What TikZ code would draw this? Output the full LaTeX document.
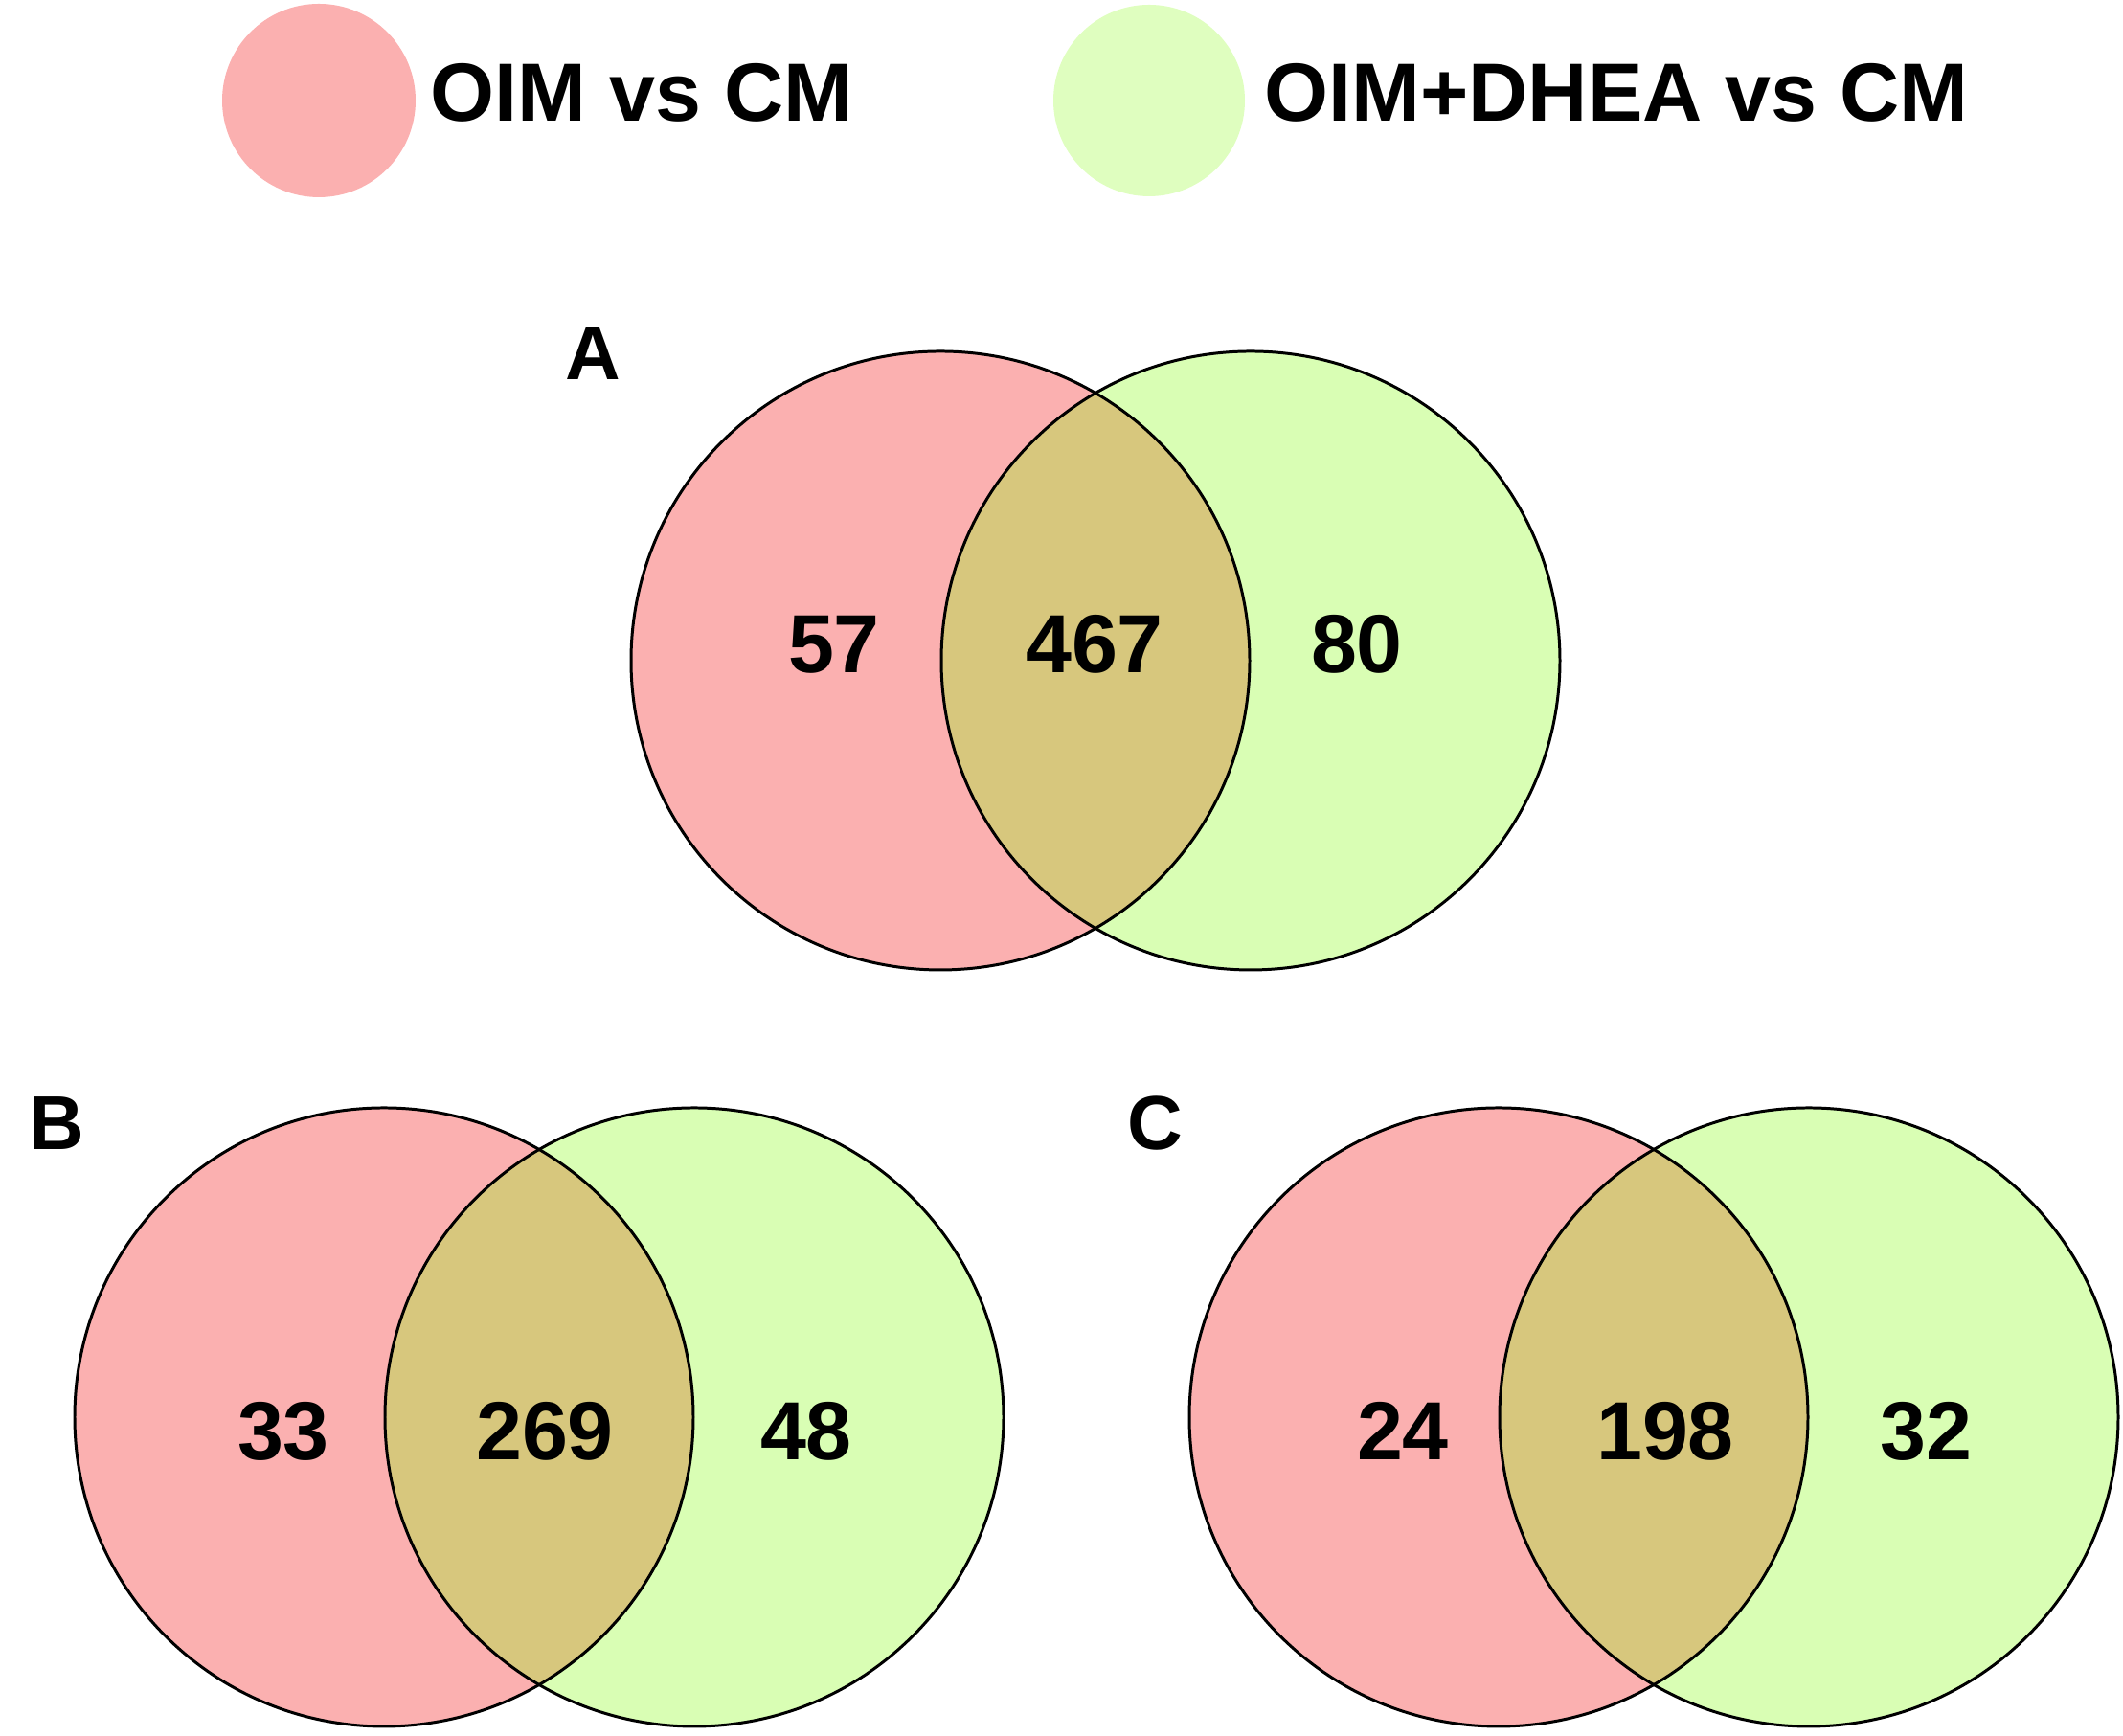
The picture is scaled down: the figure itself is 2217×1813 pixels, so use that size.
\documentclass[tikz,border=0pt]{standalone}
\usepackage{fontspec}
\setmainfont{Liberation Sans}
\definecolor{oimpink}{HTML}{FBB0B0}
\definecolor{dheagreen}{HTML}{D9FEB4}
\definecolor{bothtan}{HTML}{D7C77D}
\begin{document}
\begin{tikzpicture}[x=0.01cm, y=0.01cm,
    every node/.style={inner sep=0pt, font=\bfseries\fontsize{24.5}{29}\selectfont},
    panel/.style={font=\bfseries\fontsize{22.7}{27}\selectfont},
    ring/.style={draw=black, line width=0.85pt}]
  \useasboundingbox (0,0) rectangle (2217,1813);
  % legend
  \fill[oimpink] (333,1708) circle (101);
  \fill[dheagreen!85!white] (1200,1708) circle (100);
  \node (leg1) at (449,1686) [anchor=base west] {OIM vs CM};
  \node (leg2) at (1320,1686) [anchor=base west] {OIM+DHEA vs CM};
  % the three venns
  \foreach \x/\y in {982/1123, 401/333, 1565/333} {
    \fill[oimpink] (\x,\y) circle (323);
    \fill[dheagreen] (\x+324,\y) circle (323);
    \begin{scope}
      \clip (\x,\y) circle (323);
      \fill[bothtan] (\x+324,\y) circle (323);
    \end{scope}
    \path[ring] (\x,\y) circle (323);
    \path[ring] (\x+324,\y) circle (323);
  }
  \node (A) at (619,1416) [panel, anchor=base] {A};
  \node (B) at (59,612) [panel, anchor=base] {B};
  \node (C) at (1206,612) [panel, anchor=base] {C};
  \node (a1) at (871,1110) [anchor=base] {57};
  \node (a2) at (1143,1110) [anchor=base] {467};
  \node (a3) at (1417,1110) [anchor=base] {80};
  \node (b1) at (296,288) [anchor=base] {33};
  \node (b2) at (569,288) [anchor=base] {269};
  \node (b3) at (842,288) [anchor=base] {48};
  \node (c1) at (1465,288) [anchor=base] {24};
  \node (c2) at (1739,288) [anchor=base] {198};
  \node (c3) at (2011,288) [anchor=base] {32};
\end{tikzpicture}
\end{document}
